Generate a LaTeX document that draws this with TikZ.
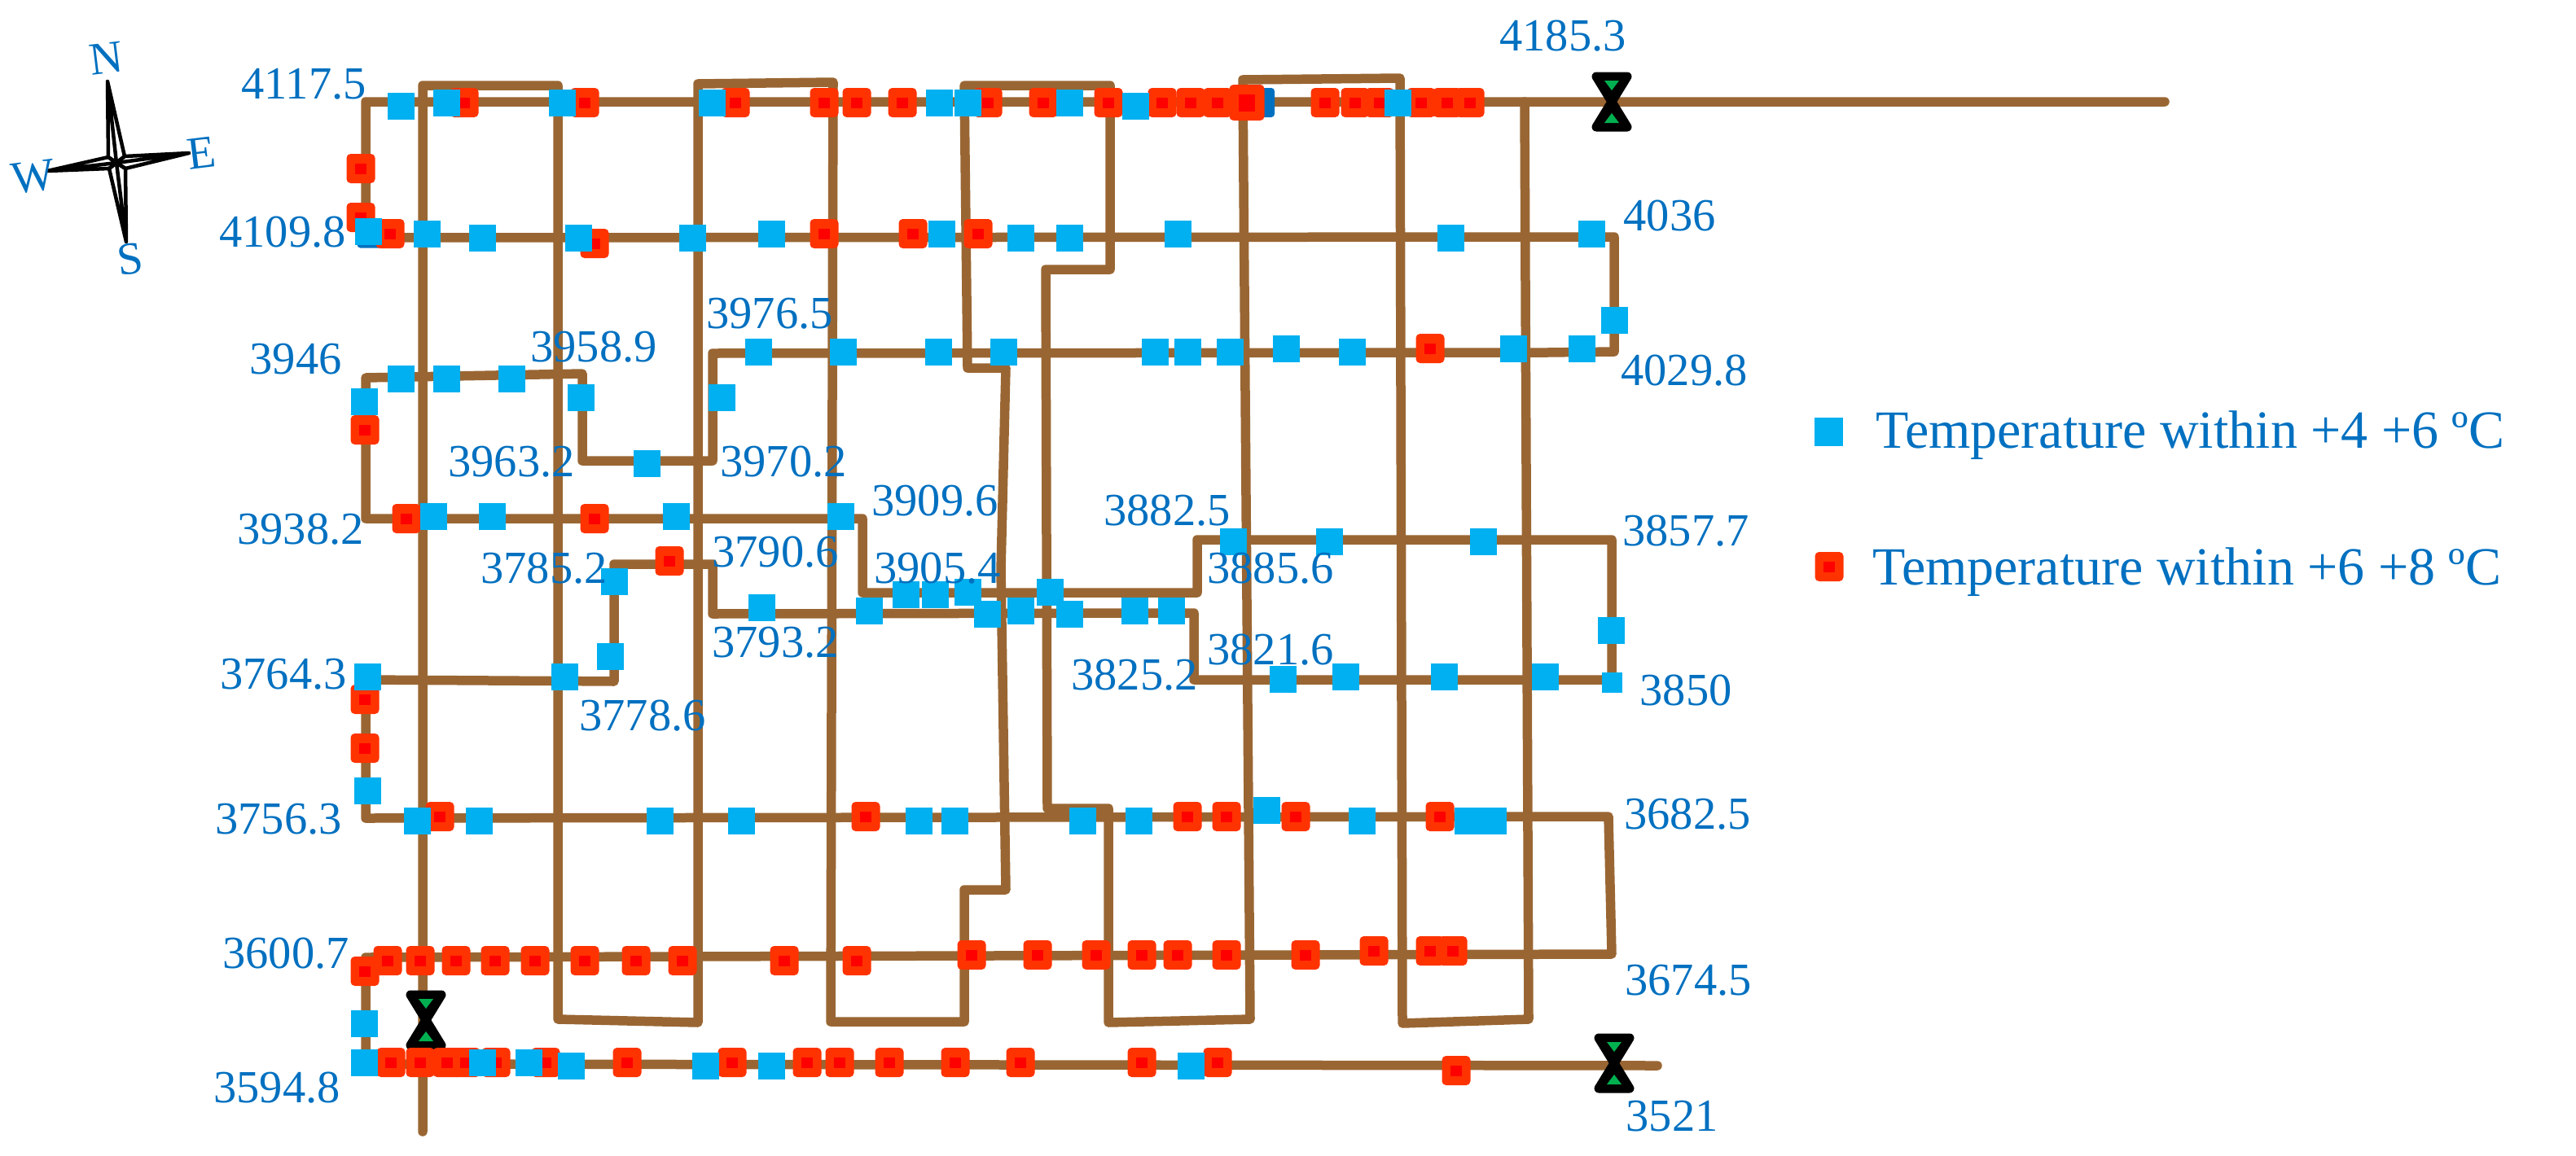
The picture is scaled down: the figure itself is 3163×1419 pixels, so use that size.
\documentclass[tikz,border=0pt]{standalone}
\usepackage{fontspec}
\setmainfont{Liberation Serif}
\definecolor{pipe}{HTML}{996633}
\definecolor{coolblue}{HTML}{00B0F0}
\definecolor{deepblue}{HTML}{0070C0}
\definecolor{hotred}{HTML}{FF3300}
\definecolor{corered}{HTML}{FF0000}
\definecolor{valvegreen}{HTML}{00B050}
\tikzset{
  pipeline/.style={draw=pipe,line width=11.5pt,line join=round,line cap=round},
  bluemark/.style={rectangle,fill=coolblue,inner sep=0pt,minimum size=33pt},
  smallblue/.style={bluemark,minimum size=25pt},
  redmark/.style={rectangle,fill=hotred,rounded corners=5pt,inner sep=0pt,minimum width=35pt,minimum height=36pt},
  redcore/.style={rectangle,fill=corered,inner sep=0pt,minimum width=14pt,minimum height=13pt},
  shadowblue/.style={rectangle,fill=deepblue,rounded corners=4pt,inner sep=0pt,minimum width=34pt,minimum height=36pt},
  gridlabel/.style={text=deepblue,font=\fontsize{56.5}{60}\selectfont,inner sep=0pt},
  legendtext/.style={text=deepblue,font=\fontsize{66}{72}\selectfont,inner sep=0pt,anchor=base west},
  compassline/.style={draw=black,line width=4.5pt,line join=round,line cap=round},
  compassletter/.style={gridlabel,rotate=7},
  valvebody/.style={draw=black,fill=black,line width=11pt,line join=round,line cap=round},
  valvefill/.style={fill=valvegreen}
}
\begin{document}
\begin{tikzpicture}[x=1pt,y=-1pt]
\useasboundingbox (0,0) rectangle (3163,1419);
% --- main ring pipeline
\draw[pipeline] (2658,125) -- (449,125) -- (449,292) -- (1982,291) -- (1982,432) -- (1900,433) -- (875,434)
  -- (875,566) -- (715,566) -- (715,459) -- (449,464) -- (449,637) -- (1059,637) -- (1059,728) -- (1470,728)
  -- (1470,663) -- (1979,663) -- (1979,835) -- (1466,835) -- (1466,753) -- (875,754) -- (875,693) -- (754,693)
  -- (754,837) -- (449,835) -- (449,1005) -- (1975,1003) -- (1979,1172) -- (449,1176) -- (449,1307) -- (2035,1309);
% --- crossing riser pipeline
\draw[pipeline] (519,1390) -- (519,105) -- (685,105) -- (685,1252) -- (857,1256) -- (857,103) -- (1023,101)
  -- (1020,1255) -- (1184,1255) -- (1184,1093) -- (1235,1093) -- (1229,700) -- (1235,452) -- (1188,452) -- (1184,105)
  -- (1363,105) -- (1363,331) -- (1284,331) -- (1286,993) -- (1361,993) -- (1361,1256) -- (1535,1252) -- (1526,98)
  -- (1719,96) -- (1722,1257) -- (1877,1252) -- (1872,125);
% --- valves
\foreach \vx/\vy in {1979/125,523/1253,1982/1306}{
  \begin{scope}[shift={(\vx,\vy)}]
    \draw[valvebody] (-19,-31) -- (19,-31) -- (-19,31) -- (19,31) -- cycle;
    \fill[valvefill] (-9,-26) -- (9,-26) -- (0,-14) -- cycle;
    \fill[valvefill] (-9,26) -- (9,26) -- (0,14) -- cycle;
  \end{scope}
}
% --- dark blue markers under red ones
\node[shadowblue] (dark1) at (1548,126) {};
\node[shadowblue,minimum width=33pt,minimum height=33pt] (dark2) at (455,288) {};
% --- red markers
\foreach \x/\y [count=\i] in {
  570/126,718/126,903/126,1012/126,1052/126,1108/126,1213/126,1281/126,1361/126,1427/126,1462/126,1495/126,
  1627/126,1664/126,1694/126,1745/126,1777/126,1805/126,
  443/207,443/267,479/287,730/299,1012/287,1121/287,1201/287,1756/428,
  448/528,499/637,730/637,822/689,448/859,448/919,540/1003,1063/1003,1458/1003,1506/1003,1591/1003,1768/1003,
  448/1193,476/1180,516/1180,560/1180,608/1180,657/1180,718/1180,781/1180,838/1180,963/1180,1052/1180,
  1193/1173,1274/1173,1346/1173,1402/1173,1446/1173,1506/1173,1603/1173,1687/1168,1756/1168,1784/1168,
  480/1305,516/1305,549/1305,572/1305,609/1305,670/1305,770/1305,899/1305,991/1305,1031/1305,1092/1305,
  1173/1305,1253/1305,1402/1305,1495/1305,1788/1315}{
  \node[redmark] (r\i) at (\x,\y) {};
}
\foreach \i in {1,...,75}{
  \node[redcore] (rc\i) at (r\i) {};
}
\node[redmark,minimum width=43pt,minimum height=44pt] (rbig) at (1531,126) {};
\node[redcore,minimum width=20pt,minimum height=21pt] (rbigcore) at (rbig) {};
% --- blue markers
\foreach \x/\y [count=\i] in {
  492/130,548/126,690/126,874/126,1153/126,1188/126,1313/126,1394/130,1716/126,
  452/284,524/287,592/292,710/292,850/292,947/287,1156/287,1253/292,1313/292,1446/287,1781/292,1954/287,
  1982/393,1942/428,1858/428,1660/432,1579/428,1510/432,1458/432,1418/432,1232/432,1152/432,1035/432,931/432,
  886/488,794/569,713/488,628/465,548/465,492/465,447/493,
  532/634,604/634,830/634,1032/634,754/714,749/806,693/831,451/831,451/971,
  512/1008,588/1008,810/1008,910/1008,1128/1008,1172/1008,1329/1008,1398/1008,1555/995,1672/1008,1802/1008,1833/1008,
  935/746,1067/750,1112/730,1148/730,1188/727,1212/754,1253/750,1289/727,1313/754,1393/750,1438/750,
  1514/665,1632/665,1821/665,1978/774,1897/831,1773/831,1652/831,1575/834,
  447/1257,447/1305,592/1305,649/1305,701/1309,866/1309,947/1309,1462/1309}{
  \node[bluemark] (b\i) at (\x,\y) {};
}
\node[smallblue] (bsmall) at (1979,838) {};
% --- pressure labels
\foreach \x/\y/\t [count=\i] in {
  373/103/4117.5,347/285/4109.8,363/441/3946,729/426/3958.9,945/385/3976.5,628/567/3963.2,962/567/3970.2,
  369/650/3938.2,668/698/3785.2,952/678/3790.6,1148/615/3909.6,1151/698/3905.4,1433/627/3882.5,1560/698/3885.6,
  1919/44/4185.3,2050/265/4036,2068/455/4029.8,2070/652/3857.7,952/789/3793.2,789/879/3778.6,348/828/3764.3,
  342/1006/3756.3,351/1171/3600.7,340/1336/3594.8,1393/829/3825.2,1560/798/3821.6,2070/848/3850,
  2072/1000/3682.5,2073/1204/3674.5,2053/1371/3521}{
  \node[gridlabel] (lab\i) at (\x,\y) {\t};
}
% --- compass
\coordinate (cn) at (132,100); \coordinate (cs) at (155,297);
\coordinate (cw) at (58,210);  \coordinate (ce) at (232,188);
\coordinate (c0) at (143,200);
\coordinate (c1) at (133,193); \coordinate (c2) at (153,192);
\coordinate (c3) at (154,207); \coordinate (c4) at (134,207);
\foreach \tip/\a/\b in {cn/c1/c2,ce/c2/c3,cs/c3/c4,cw/c4/c1}{
  \draw[compassline] (\a) -- (\tip) -- (\b) -- (c0) -- (\tip);
  \draw[compassline] (\a) -- (c0);
}
\node[compassletter] (north) at (130,72) {N};
\node[compassletter] (east) at (247,188) {E};
\node[compassletter] (west) at (41,217) {W};
\node[compassletter] (south) at (160,318) {S};
% --- legend
\node[bluemark,minimum size=35pt] (legb) at (2245,530) {};
\node[legendtext] (legbt) at (2303,550) {Temperature within +4 +6 ºC};
\node[redmark] (legr) at (2246,696) {};
\node[redcore] (legrc) at (legr) {};
\node[legendtext] (legrt) at (2299,718) {Temperature within +6 +8 ºC};
\end{tikzpicture}
\end{document}
